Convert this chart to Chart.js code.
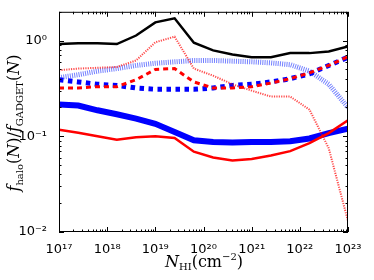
<!DOCTYPE html>
<html>
<head>
<meta charset="utf-8">
<script src="https://cdn.jsdelivr.net/npm/chart.js@4"></script>
<style>
body{margin:0;background:#fff;}
#wrap{position:relative;width:374px;height:280px;}
.lab{position:absolute;font-family:"DejaVu Serif","Liberation Serif",serif;font-size:16px;color:#000;white-space:nowrap;line-height:1;}
.lab sub{font-size:10px;vertical-align:-3px;}
.lab sup{font-size:10px;vertical-align:7px;}
#xt{left:204px;top:252px;transform:translateX(-50%);}
</style>
</head>
<body>
<div id="wrap">
<canvas id="c" width="374" height="280"></canvas>
<div class="lab" id="xt"><i>N</i><sub>HI</sub>(cm<sup>&minus;2</sup>)</div>
</div>
<script>
// log10 of column density
const logN=[17,17.4,17.8,18.2,18.6,19.0,19.4,19.8,20.2,20.6,21.0,21.4,21.8,22.2,22.6,23.0];
const blackSolid=[0.92,0.94,0.94,0.92,1.13,1.55,1.71,0.95,0.79,0.715,0.67,0.67,0.74,0.74,0.77,0.87];
const redDotted=[0.49,0.51,0.52,0.53,0.62,0.96,1.10,0.51,0.43,0.35,0.30,0.26,0.26,0.19,0.075,0.013];
const blueDotted=[0.41,0.44,0.48,0.51,0.55,0.58,0.60,0.62,0.62,0.61,0.60,0.585,0.56,0.48,0.35,0.20];
const blueDashed=[0.39,0.37,0.35,0.34,0.32,0.31,0.31,0.31,0.32,0.34,0.35,0.37,0.40,0.45,0.55,0.67];
const redDashed=[0.32,0.32,0.33,0.33,0.39,0.50,0.51,0.37,0.32,0.32,0.33,0.36,0.40,0.46,0.55,0.68];
const blueSolid=[0.215,0.21,0.187,0.17,0.153,0.135,0.111,0.091,0.087,0.086,0.087,0.087,0.089,0.095,0.108,0.12];
const redSolid=[0.117,0.109,0.10,0.092,0.098,0.10,0.096,0.069,0.06,0.056,0.058,0.063,0.07,0.085,0.108,0.147];
const xTicks=[17,18,19,20,21,22,23];
const yTicks=[0.01,0.1,1];

const supMap={'0':'⁰','1':'¹','2':'²','3':'³','4':'⁴','5':'⁵','6':'⁶','7':'⁷','8':'⁸','9':'⁹','-':'⁻'};
function pow10(e){return '10'+String(e).split('').map(ch=>supMap[ch]).join('');}
function pts(arr){return logN.map((x,i)=>({x:x,y:arr[i]}));}

// matplotlib-like frame with inward ticks, plus rotated y title
const frame={
  id:'frame',
  afterDraw(chart){
    const ctx=chart.ctx,a=chart.chartArea,xs=chart.scales.x,ys=chart.scales.y;
    ctx.save();
    ctx.strokeStyle='#000';ctx.lineWidth=1;
    ctx.strokeRect(a.left+0.5,a.top+0.5,a.right-a.left-1,a.bottom-a.top-1);
    function tx(v,len){let p=Math.round(xs.getPixelForValue(v))+0.5;
      ctx.beginPath();ctx.moveTo(p,a.bottom);ctx.lineTo(p,a.bottom-len);ctx.moveTo(p,a.top);ctx.lineTo(p,a.top+len);ctx.stroke();}
    function ty(v,len){let p=Math.round(ys.getPixelForValue(v))+0.5;
      ctx.beginPath();ctx.moveTo(a.left,p);ctx.lineTo(a.left+len,p);ctx.moveTo(a.right,p);ctx.lineTo(a.right-len,p);ctx.stroke();}
    xTicks.forEach(v=>{tx(v,5);if(v<23)for(let k=2;k<10;k++)tx(v+Math.log10(k),2.5);});
    yTicks.forEach(v=>{ty(v,5);for(let k=2;k<10;k++){if(v*k<=2)ty(v*k,2.5);}});

    // y title: f_halo(N)/f_GADGET(N)
    const serif='"DejaVu Serif","Liberation Serif",serif';
    const parts=[['f','italic 16px',0],['halo','10px',4],['(','16px',0],['N','italic 16px',0],[')/','16px',0],
                 ['f','italic 16px',0],['GADGET','10px',4],['(','16px',0],['N','italic 16px',0],[')','16px',0]];
    let total=0;
    parts.forEach(p=>{ctx.font=p[1]+' '+serif;p.push(ctx.measureText(p[0]).width);total+=p[3];});
    ctx.translate(19,123);ctx.rotate(-Math.PI/2);
    ctx.fillStyle='#000';ctx.textBaseline='alphabetic';
    let x=-total/2;
    parts.forEach(p=>{ctx.font=p[1]+' '+serif;ctx.fillText(p[0],x,p[2]);x+=p[3];});
    ctx.restore();
  }
};

function ds(data,color,width,dash,order){
  return {data:pts(data),borderColor:color,borderWidth:width,borderDash:dash,pointRadius:0,tension:0,fill:false,order:order,borderCapStyle:'butt'};
}

new Chart(document.getElementById('c').getContext('2d'),{
  type:'line',
  data:{datasets:[
    ds(blackSolid,'#000',2.5,[],0),
    ds(redSolid,'#ff0000',2.5,[],1),
    ds(redDashed,'#ff0000',3,[5,4],2),
    ds(redDotted,'rgba(255,0,0,0.7)',2,[1.2,1.2],3),
    ds(blueSolid,'#0000ff',6,[],4),
    ds(blueDashed,'#0000ff',5,[4.5,4.5],5),
    ds(blueDotted,'rgba(40,60,255,0.65)',5,[1,1.2],6)
  ]},
  options:{
    responsive:false,animation:false,
    layout:{padding:{left:0,right:26,top:10,bottom:0}},
    plugins:{legend:{display:false},tooltip:{enabled:false}},
    scales:{
      x:{type:'linear',min:17,max:23,
        afterBuildTicks:ax=>{ax.ticks=xTicks.map(v=>({value:v}));},
        afterFit:ax=>{ax.height=48;},
        grid:{display:false},border:{display:false},
        ticks:{callback:v=>pow10(v),color:'#000',padding:2,maxRotation:0,autoSkip:false,font:{family:'DejaVu Sans',size:13}}},
      y:{type:'logarithmic',min:0.01,max:2,
        afterBuildTicks:ax=>{ax.ticks=yTicks.map(v=>({value:v}));},
        afterFit:ax=>{ax.width=59;},
        grid:{display:false},border:{display:false},
        ticks:{callback:v=>pow10(Math.round(Math.log10(v))),color:'#000',padding:4,autoSkip:false,font:{family:'DejaVu Sans',size:13}}}
    }
  },
  plugins:[frame]
});
</script>
</body>
</html>
